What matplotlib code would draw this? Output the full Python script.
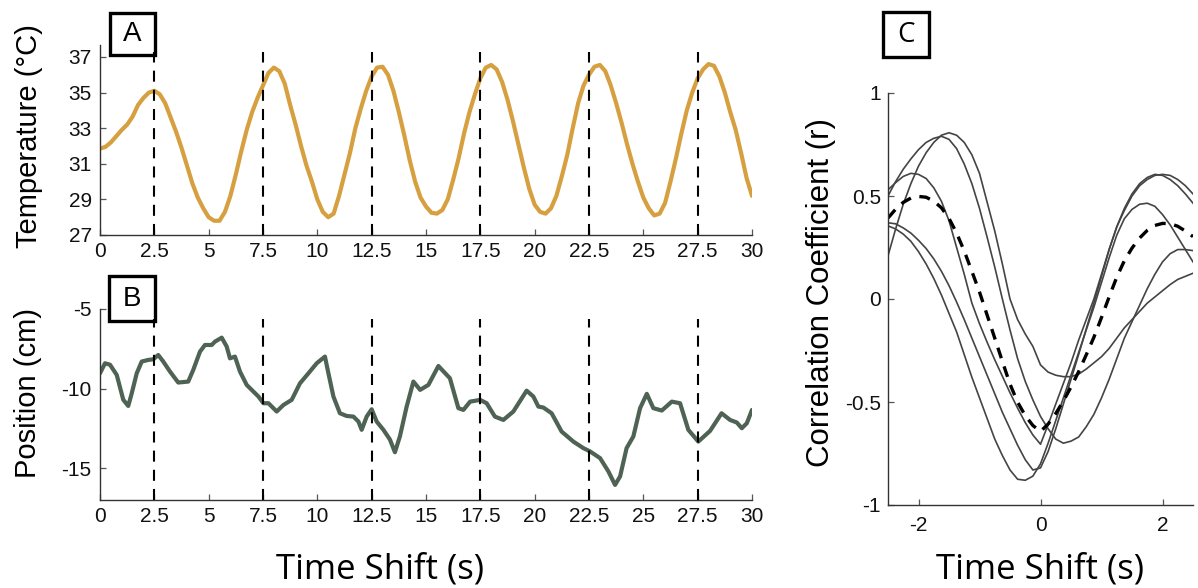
import numpy as np
import matplotlib
matplotlib.use("Agg")
import matplotlib.pyplot as plt
from matplotlib.patches import Rectangle

plt.rcParams['font.family'] = ['Liberation Sans', 'DejaVu Sans']
plt.rcParams['axes.unicode_minus'] = False

# ---------------- data ----------------
# Panel A: skin temperature sampled every 0.25 s
temp_time = np.arange(0, 30.001, 0.25)
temperature = [
    31.85, 31.95, 32.2, 32.55, 32.9, 33.2, 33.65, 34.3, 34.7, 35.0,
    35.1, 34.9, 34.4, 33.6, 32.8, 31.9, 30.9, 29.9, 29.1, 28.5,
    28.0, 27.8, 27.8, 28.3, 29.2, 30.4, 31.7, 32.9, 33.9, 34.7,
    35.4, 36.1, 36.4, 36.2, 35.5, 34.3, 33.2, 32.0, 30.9, 30.0,
    29.0, 28.3, 28.0, 28.2, 29.2, 30.4, 31.6, 33.0, 34.1, 35.1,
    35.9, 36.4, 36.45, 36.0, 35.1, 33.9, 32.6, 31.2, 30.0, 29.1,
    28.6, 28.25, 28.2, 28.4, 29.0, 30.1, 31.3, 32.7, 33.9, 34.9,
    35.8, 36.4, 36.55, 36.3, 35.6, 34.6, 33.4, 32.1, 30.8, 29.6,
    28.7, 28.3, 28.2, 28.5, 29.2, 30.3, 31.5, 33.0, 34.4, 35.4,
    36.0, 36.45, 36.55, 36.2, 35.4, 34.4, 33.3, 32.1, 31.0, 30.0,
    29.1, 28.5, 28.1, 28.2, 28.8, 30.0, 31.3, 32.7, 34.0, 35.0,
    35.8, 36.3, 36.6, 36.5, 35.9, 35.0, 33.9, 32.9, 31.6, 30.2,
    29.2,
]

# Panel B: hand position
pos_time = [
    0, 0.23, 0.46, 0.77, 1.07, 1.30, 1.46, 1.69, 1.92, 2.22, 2.45, 2.68,
    2.91, 3.22, 3.60, 4.06, 4.29, 4.60, 4.83, 5.14, 5.29, 5.60, 5.83, 5.98,
    6.21, 6.44, 6.75, 7.06, 7.29, 7.52, 7.75, 8.13, 8.44, 8.82, 9.20, 9.59,
    9.97, 10.35, 10.51, 10.74, 11.04, 11.35, 11.66, 11.89, 12.04, 12.27,
    12.50, 12.73, 13.04, 13.34, 13.57, 13.80, 14.11, 14.42, 14.73, 15.11,
    15.57, 16.10, 16.49, 16.72, 17.03, 17.49, 17.79, 18.17, 18.56, 19.02,
    19.63, 19.94, 20.17, 20.40, 20.78, 21.24, 21.78, 22.24, 22.55, 23.01,
    23.39, 23.70, 23.93, 24.23, 24.54, 24.85, 25.16, 25.46, 25.85, 26.31,
    26.69, 27.07, 27.53, 28.07, 28.60, 28.99, 29.30, 29.53, 29.76, 30.0,
]
position = [
    -9.04, -8.41, -8.5, -9.14, -10.7, -11.09, -10.3, -9.04, -8.3, -8.2,
    -8.16, -7.89, -8.3, -8.93, -9.62, -9.56, -8.83, -7.68, -7.26, -7.26,
    -7.05, -6.8, -7.36, -8.1, -7.99, -8.93, -9.77, -10.19, -10.5, -10.92,
    -10.92, -11.44, -11.03, -10.71, -9.67, -9.04, -8.41, -7.99, -9.04,
    -10.5, -11.55, -11.72, -11.76, -12.07, -12.59, -11.76, -11.3, -12.07,
    -12.59, -13.2, -14.0, -13.0, -11.13, -9.56, -10.08, -9.77, -8.58,
    -9.35, -11.23, -11.34, -10.82, -10.71, -10.92, -11.76, -11.97, -11.44,
    -10.13, -10.5, -11.13, -11.19, -11.55, -12.7, -13.33, -13.74, -13.95,
    -14.37, -15.2, -16.05, -15.52, -13.74, -13.01, -11.23, -10.33, -11.23,
    -11.38, -10.82, -10.92, -12.59, -13.33, -12.66, -11.55, -11.97, -12.13,
    -12.49, -12.18, -11.34,
]

# Stimulus onsets (dashed markers)
onsets = [2.5, 7.5, 12.5, 17.5, 22.5, 27.5]

# Panel C: cross-correlation per subject, lags every 0.125 s
lags = np.arange(-2.5, 2.5001, 0.125)
xcorr_subjects = [
    [0.355, 0.34, 0.315, 0.28, 0.23, 0.17, 0.10, 0.02, -0.07, -0.16,
     -0.27, -0.38, -0.48, -0.58, -0.68, -0.76, -0.83, -0.875, -0.88, -0.86,
     -0.80, -0.70, -0.59, -0.48, -0.37, -0.26, -0.15, -0.04, 0.08, 0.20,
     0.31, 0.39, 0.435, 0.46, 0.465, 0.45, 0.41, 0.36, 0.30, 0.24, 0.18],
    [0.37, 0.365, 0.345, 0.32, 0.285, 0.245, 0.195, 0.135, 0.065, -0.015,
     -0.10, -0.19, -0.28, -0.37, -0.46, -0.55, -0.63, -0.71, -0.78, -0.83,
     -0.82, -0.74, -0.63, -0.51, -0.39, -0.27, -0.145, -0.02, 0.11, 0.24,
     0.35, 0.44, 0.51, 0.56, 0.59, 0.605, 0.60, 0.58, 0.55, 0.51, 0.465],
    [0.53, 0.565, 0.595, 0.61, 0.605, 0.585, 0.54, 0.475, 0.38, 0.25,
     0.12, -0.02, -0.12, -0.21, -0.295, -0.375, -0.455, -0.53, -0.60, -0.66,
     -0.705, -0.61, -0.51, -0.41, -0.31, -0.20, -0.10, 0.0, 0.12, 0.24,
     0.35, 0.43, 0.50, 0.55, 0.58, 0.60, 0.605, 0.60, 0.58, 0.55, 0.51],
    [0.50, 0.57, 0.63, 0.68, 0.725, 0.76, 0.78, 0.79, 0.775, 0.73,
     0.655, 0.56, 0.44, 0.30, 0.155, 0.0, -0.15, -0.29, -0.40, -0.49,
     -0.57, -0.63, -0.68, -0.70, -0.69, -0.67, -0.62, -0.56, -0.48, -0.39,
     -0.29, -0.19, -0.11, -0.03, 0.05, 0.12, 0.18, 0.22, 0.24, 0.24, 0.235],
    [0.21, 0.34, 0.46, 0.56, 0.645, 0.71, 0.76, 0.795, 0.807, 0.795,
     0.76, 0.70, 0.61, 0.47, 0.33, 0.17, 0.0, -0.10, -0.17, -0.23,
     -0.32, -0.355, -0.37, -0.377, -0.377, -0.365, -0.34, -0.31, -0.28, -0.24,
     -0.19, -0.14, -0.10, -0.06, -0.02, 0.01, 0.04, 0.07, 0.095, 0.11, 0.125],
]
xcorr_mean = np.mean(np.array(xcorr_subjects), axis=0)

# ---------------- styling ----------------
GOLD = '#D6A040'
SLATE = '#4F6354'
SPINE = '#333333'
TICKFS = 15

fig = plt.figure(figsize=(11.98, 5.88), dpi=100)
W, H = 1198.0, 588.0


def frac_box(x0, y0, x1, y1):
    return [x0 / W, 1 - y1 / H, (x1 - x0) / W, (y1 - y0) / H]


def style_axes(ax, xpad=5, ypad=6):
    for s in ('top', 'right'):
        ax.spines[s].set_visible(False)
    for s in ('left', 'bottom'):
        ax.spines[s].set_color(SPINE)
        ax.spines[s].set_linewidth(1.0)
    ax.tick_params(direction='in', length=4, width=0.9, colors='#555555',
                   labelcolor='#111111', labelsize=TICKFS)
    ax.tick_params(axis='x', pad=xpad)
    ax.tick_params(axis='y', pad=ypad)


time_ticks = np.arange(0, 30.01, 2.5)
time_labels = ['0', '2.5', '5', '7.5', '10', '12.5', '15', '17.5', '20',
               '22.5', '25', '27.5', '30']

# Panel A
axA = fig.add_axes(frac_box(100, 45, 752, 235))
axA.plot(temp_time, temperature, color=GOLD, lw=3.0, solid_capstyle='round',
         solid_joinstyle='round')
axA.vlines(onsets, 27, 37.3, colors='black', lw=1.5, linestyles=[(0, (5.3, 3.9))])
axA.set_xlim(0, 30)
axA.set_ylim(27, 37.67)
axA.set_yticks([27, 29, 31, 33, 35, 37])
axA.set_xticks(time_ticks)
axA.set_xticklabels(time_labels)
style_axes(axA)

# Panel B
axB = fig.add_axes(frac_box(100, 309, 752, 500))
axB.plot(pos_time, position, color=SLATE, lw=3.0, solid_capstyle='round',
         solid_joinstyle='round')
axB.vlines(onsets, -17, -5.6, colors='black', lw=1.5, linestyles=[(0, (5.3, 3.9))])
axB.set_xlim(0, 30)
axB.set_ylim(-17, -5)
axB.set_yticks([-15, -10, -5])
axB.set_xticks(time_ticks)
axB.set_xticklabels(time_labels)
style_axes(axB)

# Panel C
axC = fig.add_axes(frac_box(888, 93, 1193, 505))
for curve in xcorr_subjects:
    axC.plot(lags, curve, color='#444444', lw=1.2)
axC.plot(lags, xcorr_mean, color='black', lw=2.4, linestyle=(0, (3.3, 2.6)))
axC.set_xlim(-2.5, 2.5)
axC.set_ylim(-1, 1)
axC.set_xticks([-2, 0, 2])
axC.set_yticks([-1, -0.5, 0, 0.5, 1])
axC.set_yticklabels(['-1', '-0.5', '0', '0.5', '1'])
style_axes(axC, xpad=8, ypad=5)

# Axis titles
fig.text(29 / W, 1 - 136 / H, 'Temperature (°C)', rotation=90, ha='center',
         va='center', fontsize=21)
fig.text(28 / W, 1 - 393 / H, 'Position (cm)', rotation=90, ha='center',
         va='center', fontsize=21)
fig.text(821 / W, 1 - 293 / H, 'Correlation Coefficient (r)', rotation=90,
         ha='center', va='center', fontsize=22.5)
fig.text(380 / W, 1 - 579 / H, 'Time Shift (s)', ha='center', va='baseline',
         fontsize=25, family=['Open Sans', 'DejaVu Sans'])
fig.text(1040 / W, 1 - 579 / H, 'Time Shift (s)', ha='center', va='baseline',
         fontsize=25, family=['Open Sans', 'DejaVu Sans'])

# Panel letters in boxes
for letter, (x0, y0, x1, y1), fam in (
        ('A', (110, 13, 155, 55), ['Liberation Sans']),
        ('B', (109, 276, 155, 321), ['Liberation Sans']),
        ('C', (883, 12, 929, 57), ['Open Sans', 'DejaVu Sans'])):
    fig.add_artist(Rectangle((x0 / W, 1 - y1 / H), (x1 - x0) / W, (y1 - y0) / H,
                             transform=fig.transFigure, fill=False,
                             edgecolor='black', lw=2.4))
    fig.text((x0 + x1) / 2 / W, 1 - (y0 + y1) / 2 / H, letter, ha='center',
             va='center', fontsize=20, family=fam)

fig.savefig('out.png', dpi=100)
